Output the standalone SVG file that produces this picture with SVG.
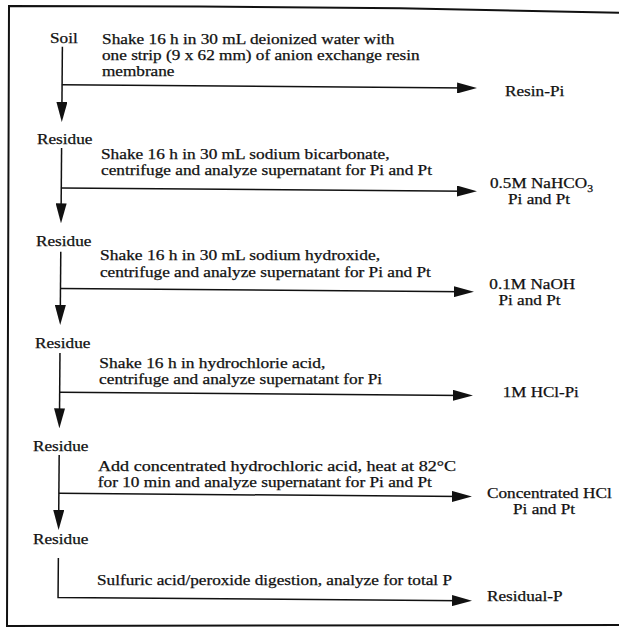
<svg xmlns="http://www.w3.org/2000/svg" width="619" height="627" viewBox="0 0 619 627">
<defs>
<style>
.t{font-family:"Liberation Serif","Times New Roman",serif;font-size:14px;fill:#111;stroke:#111;stroke-width:0.25}
.c{fill:none;stroke:#111;stroke-width:1.5}
.b{fill:none;stroke:#111;stroke-width:2}
</style>
<marker id="ah" viewBox="0 0 20 11" refX="10" refY="5.5" markerWidth="20" markerHeight="11" markerUnits="userSpaceOnUse" orient="auto">
<path d="M0,0 L20,5.5 L0,11 Z" fill="#111"/>
</marker>
</defs>
<rect x="0" y="0" width="619" height="627" fill="#fff"/>
<g id="frame">
<polyline class="b" points="619,12.7 400,8.3 200,6.5 9,6 7,626 619,625"/>
</g>
<g id="connectors" transform="rotate(0.45 310 313)">
<path class="c" d="M60.3,48.6 V114" marker-end="url(#ah)"/>
<path class="c" d="M60.3,86.8 H465.3" marker-end="url(#ah)"/>
<path class="c" d="M60.3,150 V215.3" marker-end="url(#ah)"/>
<path class="c" d="M60.3,189.9 H466" marker-end="url(#ah)"/>
<path class="c" d="M60.3,253.7 V317" marker-end="url(#ah)"/>
<path class="c" d="M60.3,290.5 H463.8" marker-end="url(#ah)"/>
<path class="c" d="M60.3,355 V420.3" marker-end="url(#ah)"/>
<path class="c" d="M60.3,394.2 H463.6" marker-end="url(#ah)"/>
<path class="c" d="M60.3,457 V522" marker-end="url(#ah)"/>
<path class="c" d="M60.3,495.3 H463.4" marker-end="url(#ah)"/>
<path class="c" d="M60.3,560 V599.5 H464.3" marker-end="url(#ah)"/>
</g>
<g id="soil"><text class="t" x="50" y="42.6" textLength="27.7" lengthAdjust="spacingAndGlyphs">Soil</text></g>
<g id="step1">
<text class="t" x="102.1" y="44" textLength="292.4" lengthAdjust="spacingAndGlyphs">Shake 16 h in 30 mL deionized water with</text>
<text class="t" x="102" y="60.1" textLength="317.7" lengthAdjust="spacingAndGlyphs">one strip (9 x 62 mm) of anion exchange resin</text>
<text class="t" x="101.9" y="75.8" textLength="72.6" lengthAdjust="spacingAndGlyphs">membrane</text>
</g>
<g id="resin-pi"><text class="t" x="505" y="96.2" textLength="59.3" lengthAdjust="spacingAndGlyphs">Resin-Pi</text></g>

<g id="residue1"><text class="t" x="37" y="144.2" textLength="55.4" lengthAdjust="spacingAndGlyphs">Residue</text></g>
<g id="step2">
<text class="t" x="101" y="158.5" textLength="288.6" lengthAdjust="spacingAndGlyphs">Shake 16 h in 30 mL sodium bicarbonate,</text>
<text class="t" x="101" y="174.6" textLength="331" lengthAdjust="spacingAndGlyphs">centrifuge and analyze supernatant for Pi and Pt</text>
</g>
<g id="nahco3">
<text class="t" x="490" y="188.4" textLength="103" lengthAdjust="spacingAndGlyphs">0.5M NaHCO<tspan font-size="9.5" dy="4">3</tspan></text>
<text class="t" x="508" y="204.4" textLength="62.1" lengthAdjust="spacingAndGlyphs">Pi and Pt</text>
</g>

<g id="residue2"><text class="t" x="36" y="246.3" textLength="55.4" lengthAdjust="spacingAndGlyphs">Residue</text></g>
<g id="step3">
<text class="t" x="100" y="260.4" textLength="280" lengthAdjust="spacingAndGlyphs">Shake 16 h in 30 mL sodium hydroxide,</text>
<text class="t" x="99.9" y="276.6" textLength="331" lengthAdjust="spacingAndGlyphs">centrifuge and analyze supernatant for Pi and Pt</text>
</g>
<g id="naoh">
<text class="t" x="489.3" y="288.6" textLength="86" lengthAdjust="spacingAndGlyphs">0.1M NaOH</text>
<text class="t" x="498.4" y="304.6" textLength="62.1" lengthAdjust="spacingAndGlyphs">Pi and Pt</text>
</g>

<g id="residue3"><text class="t" x="35" y="348" textLength="55.4" lengthAdjust="spacingAndGlyphs">Residue</text></g>
<g id="step4">
<text class="t" x="99.3" y="367.7" textLength="226" lengthAdjust="spacingAndGlyphs">Shake 16 h in hydrochlorie acid,</text>
<text class="t" x="99.1" y="384" textLength="283" lengthAdjust="spacingAndGlyphs">centrifuge and analyze supernatant for Pi</text>
</g>
<g id="hcl-pi"><text class="t" x="502.8" y="397" textLength="76" lengthAdjust="spacingAndGlyphs">1M HCl-Pi</text></g>

<g id="residue4"><text class="t" x="33" y="451.3" textLength="55.4" lengthAdjust="spacingAndGlyphs">Residue</text></g>
<g id="step5">
<text class="t" x="98" y="470.7" textLength="358" lengthAdjust="spacingAndGlyphs">Add concentrated hydrochloric acid, heat at 82°C</text>
<text class="t" x="97.8" y="486.7" textLength="334" lengthAdjust="spacingAndGlyphs">for 10 min and analyze supernatant for Pi and Pt</text>
</g>
<g id="conc-hcl">
<text class="t" x="487" y="498.3" textLength="124.7" lengthAdjust="spacingAndGlyphs">Concentrated HCl</text>
<text class="t" x="513" y="514.4" textLength="62.1" lengthAdjust="spacingAndGlyphs">Pi and Pt</text>
</g>

<g id="residue5"><text class="t" x="33" y="544.3" textLength="55.4" lengthAdjust="spacingAndGlyphs">Residue</text></g>
<g id="step6">
<text class="t" x="97" y="585.4" textLength="355" lengthAdjust="spacingAndGlyphs">Sulfuric acid/peroxide digestion, analyze for total P</text>
</g>
<g id="residual-p"><text class="t" x="487" y="601.3" textLength="75.5" lengthAdjust="spacingAndGlyphs">Residual-P</text></g>
</svg>
